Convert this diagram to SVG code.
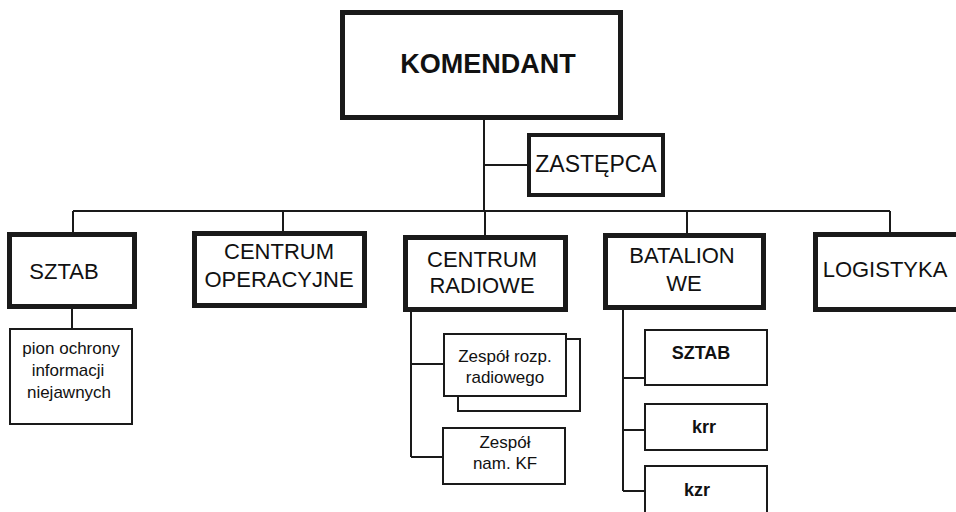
<svg xmlns="http://www.w3.org/2000/svg" width="956" height="512" viewBox="0 0 956 512">
<style>
.main{fill:#fff;stroke:#1a1a1a;stroke-width:5}
.mid{fill:#fff;stroke:#1a1a1a;stroke-width:4}
.sub{fill:#fff;stroke:#1a1a1a;stroke-width:2}
.con{stroke:#1a1a1a;stroke-width:2;fill:none}
text{font-family:"Liberation Sans",Arial,sans-serif;fill:#111;text-anchor:middle}
.big{font-size:22px}
.small{font-size:17px}
.bsmall{font-size:18px;font-weight:bold}
</style>
<rect width="956" height="512" fill="#fff"/>
<g id="connectors" class="con">
<path d="M484 120V211M484 165H527M73 211H890M73 211V232M283 211V231M485 211V235M687 211V233M890 211V233"/>
<path d="M72 309V328"/>
<path d="M411 312V457M411 364H443M411 457H442"/>
<path d="M623 310V491M623 378H644M623 430H644M623 491H644"/>
</g>
<g id="komendant"><rect class="main" x="342.5" y="12.5" width="278" height="105"/><text x="488" y="73" style="font-size:27px;font-weight:bold">KOMENDANT</text></g>
<g id="zastepca"><rect class="mid" x="529" y="135" width="134" height="60"/><text class="big" x="596" y="172" style="font-size:23px">ZASTĘPCA</text></g>
<g id="sztab"><rect class="main" x="9.5" y="234.5" width="125" height="72"/><text class="big" x="64" y="279">SZTAB</text></g>
<g id="centrum-operacyjne"><rect class="main" x="194.5" y="233.5" width="170" height="72"/><text class="big" x="279" y="259">CENTRUM</text><text class="big" x="279" y="287">OPERACYJNE</text></g>
<g id="centrum-radiowe"><rect class="main" x="405.5" y="237.5" width="160" height="72"/><text class="big" x="482" y="267">CENTRUM</text><text class="big" x="482" y="293">RADIOWE</text></g>
<g id="batalion-we"><rect class="main" x="605.5" y="235.5" width="158" height="72"/><text class="big" x="682" y="263">BATALION</text><text class="big" x="684" y="291">WE</text></g>
<g id="logistyka"><rect class="main" x="815.5" y="234.5" width="150" height="75"/><text class="big" x="885" y="277">LOGISTYKA</text></g>
<g id="pion-ochrony"><rect class="sub" x="10" y="329" width="122" height="95"/><text class="small" x="71" y="354">pion ochrony</text><text class="small" x="68" y="376">informacji</text><text class="small" x="69" y="398">niejawnych</text></g>
<g id="zespol-rozp"><rect class="sub" x="458" y="339" width="122" height="72"/><rect class="sub" x="444" y="334" width="122" height="62"/><text class="small" x="505" y="362">Zespół rozp.</text><text class="small" x="505" y="383">radiowego</text></g>
<g id="zespol-nam"><rect class="sub" x="443" y="428" width="122" height="56"/><text class="small" x="505" y="448">Zespół</text><text class="small" x="505" y="469">nam. KF</text></g>
<g id="sztab-we"><rect class="sub" x="645" y="330" width="122" height="55"/><text class="bsmall" x="701" y="359">SZTAB</text></g>
<g id="krr"><rect class="sub" x="645" y="404" width="122" height="46"/><text class="bsmall" x="704" y="433">krr</text></g>
<g id="kzr"><rect class="sub" x="645" y="466" width="122" height="60"/><text class="bsmall" x="697" y="496">kzr</text></g>
</svg>
